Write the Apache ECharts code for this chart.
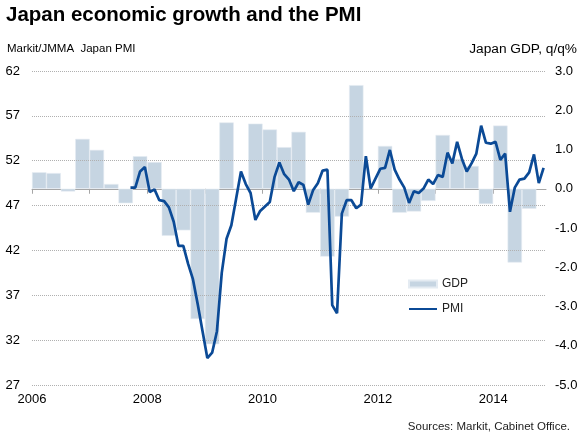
<!DOCTYPE html>
<html><head><meta charset="utf-8">
<script src="https://cdn.jsdelivr.net/npm/echarts@6/dist/echarts.min.js"></script>
<style>html,body{margin:0;padding:0;background:#fff}#c{width:582px;height:442px}</style>
</head><body><div id="c"></div>
<script>
// GDP, q/q %, quarterly from 2006 Q1
const gdpStart = [2006, 1];
const gdpValues = [
  0.42, 0.40, -0.07, 1.27,
  0.99, 0.12, -0.37, 0.83,
  0.68, -1.20, -1.06, -3.32,
  -3.96, 1.69, 0.00, 1.66,
  1.51, 1.06, 1.45, -0.61,
  -1.73, -0.71, 2.64, 0.02,
  1.09, -0.61, -0.58, -0.31,
  1.37, 0.76, 0.58, -0.39,
  1.61, -1.88, -0.51
];
// PMI, monthly from Sep 2007
const pmiStart = [2007, 9];
const pmiValues = [
  49.0, 49.0, 50.8, 51.3,
  48.5, 48.8, 47.6, 47.5, 46.8, 45.2, 42.5, 42.5, 40.5, 38.8, 36.0, 33.0,
  30.0, 30.6, 33.0, 39.5, 43.3, 44.8, 47.8, 50.8, 49.4, 48.4, 45.4, 46.4,
  46.9, 47.4, 50.2, 51.8, 50.5, 49.9, 48.6, 49.6, 49.3, 47.1, 48.7, 49.5,
  50.9, 51.0, 35.9, 35.0, 46.1, 47.6, 47.6, 46.7, 47.1, 52.5, 48.9, 50.0,
  51.1, 51.2, 53.2, 51.0, 49.9, 49.0, 47.3, 48.6, 48.4, 48.9, 49.9, 49.4,
  50.4, 50.2, 52.9, 51.7, 54.1, 52.2, 50.8, 51.7, 52.8, 55.9, 54.0, 53.9,
  54.1, 52.1, 52.8, 46.3, 49.0, 49.9, 50.0, 50.7, 52.7, 49.5, 51.2
];
const pmiTicks = [27, 32, 37, 42, 47, 52, 57, 62];
const gdpTicks = [-5, -4, -3, -2, -1, 0, 1, 2, 3];
const yearTicks = [2006, 2007, 2008, 2009, 2010, 2011, 2012, 2013, 2014];
const yearLabels = [2006, 2008, 2010, 2012, 2014];
const xMin = 2006, xMax = 2014 + 11 / 12;

const FONT = 'Arial, "Liberation Sans", sans-serif';
const gdpData = gdpValues.map((v, i) => [gdpStart[0] + (gdpStart[1] - 1 + i) * 0.25 + 0.125, v]);
const pmiData = pmiValues.map((v, i) => [pmiStart[0] + (pmiStart[1] - 1 + i + 0.5) / 12, v]);

const chart = echarts.init(document.getElementById('c'), null, {renderer: 'canvas'});
chart.setOption({
  animation: false,
  backgroundColor: '#fff',
  textStyle: {fontFamily: FONT},
  title: [
    {text: 'Japan economic growth and the PMI', left: 6, top: 5, padding: 0,
     textStyle: {fontSize: 20.5, fontWeight: 'bold', color: '#000', fontFamily: FONT}},
    {text: 'Markit/JMMA  Japan PMI', left: 7, top: 43, padding: 0,
     textStyle: {fontSize: 11.5, fontWeight: 'normal', color: '#000', fontFamily: FONT}},
    {text: 'Japan GDP, q/q%', right: 5, top: 42, padding: 0,
     textStyle: {fontSize: 13.7, fontWeight: 'normal', color: '#000', fontFamily: FONT}},
    {text: 'Sources: Markit, Cabinet Office.', right: 12, top: 421, padding: 0,
     textStyle: {fontSize: 11.5, fontWeight: 'normal', color: '#222', fontFamily: FONT}}
  ],
  legend: {
    orient: 'vertical', left: 408, top: 278, padding: 0,
    itemWidth: 28, itemHeight: 7, itemGap: 13,
    textStyle: {fontSize: 12, color: '#222', fontFamily: FONT},
    data: [{name: 'GDP', icon: 'rect'}, {name: 'PMI', itemStyle: {opacity: 0}}]
  },
  grid: {left: 32, right: 36, top: 71, bottom: 57, containLabel: false},
  xAxis: {
    type: 'value', min: xMin, max: xMax,
    axisLine: {show: true, lineStyle: {color: '#a6a6a6', width: 1}},
    axisTick: {show: true, length: 5, customValues: yearTicks, lineStyle: {color: '#a6a6a6'}},
    axisLabel: {customValues: yearLabels, formatter: v => String(v), fontSize: 13, color: '#000', margin: 8, fontFamily: FONT},
    splitLine: {show: false}
  },
  yAxis: [
    {
      type: 'value', min: 27, max: 62, position: 'left', z: 3,
      axisLine: {show: false},
      axisTick: {show: false, customValues: pmiTicks},
      axisLabel: {customValues: pmiTicks, fontSize: 13, color: '#000', margin: 12, fontFamily: FONT},
      splitLine: {show: true, lineStyle: {type: 'dotted', color: '#b0b0b0', width: 1}}
    },
    {
      type: 'value', min: -5, max: 3, interval: 1, position: 'right',
      axisLine: {show: false}, axisTick: {show: false},
      axisLabel: {formatter: v => v.toFixed(1), fontSize: 13, color: '#000', margin: 9, fontFamily: FONT},
      splitLine: {show: false}
    }
  ],
  series: [
    {
      name: 'GDP', type: 'bar', xAxisIndex: 0, yAxisIndex: 1, z: 2,
      barWidth: 14.4, data: gdpData,
      itemStyle: {color: '#c6d5e2', borderColor: '#e4ebf2', borderWidth: 0.6}
    },
    {
      name: 'PMI', type: 'line', xAxisIndex: 0, yAxisIndex: 0, z: 5,
      symbol: 'none', data: pmiData,
      lineStyle: {color: '#0b4a96', width: 2.7}, itemStyle: {color: '#0b4a96'}
    }
  ]
});
</script></body></html>
